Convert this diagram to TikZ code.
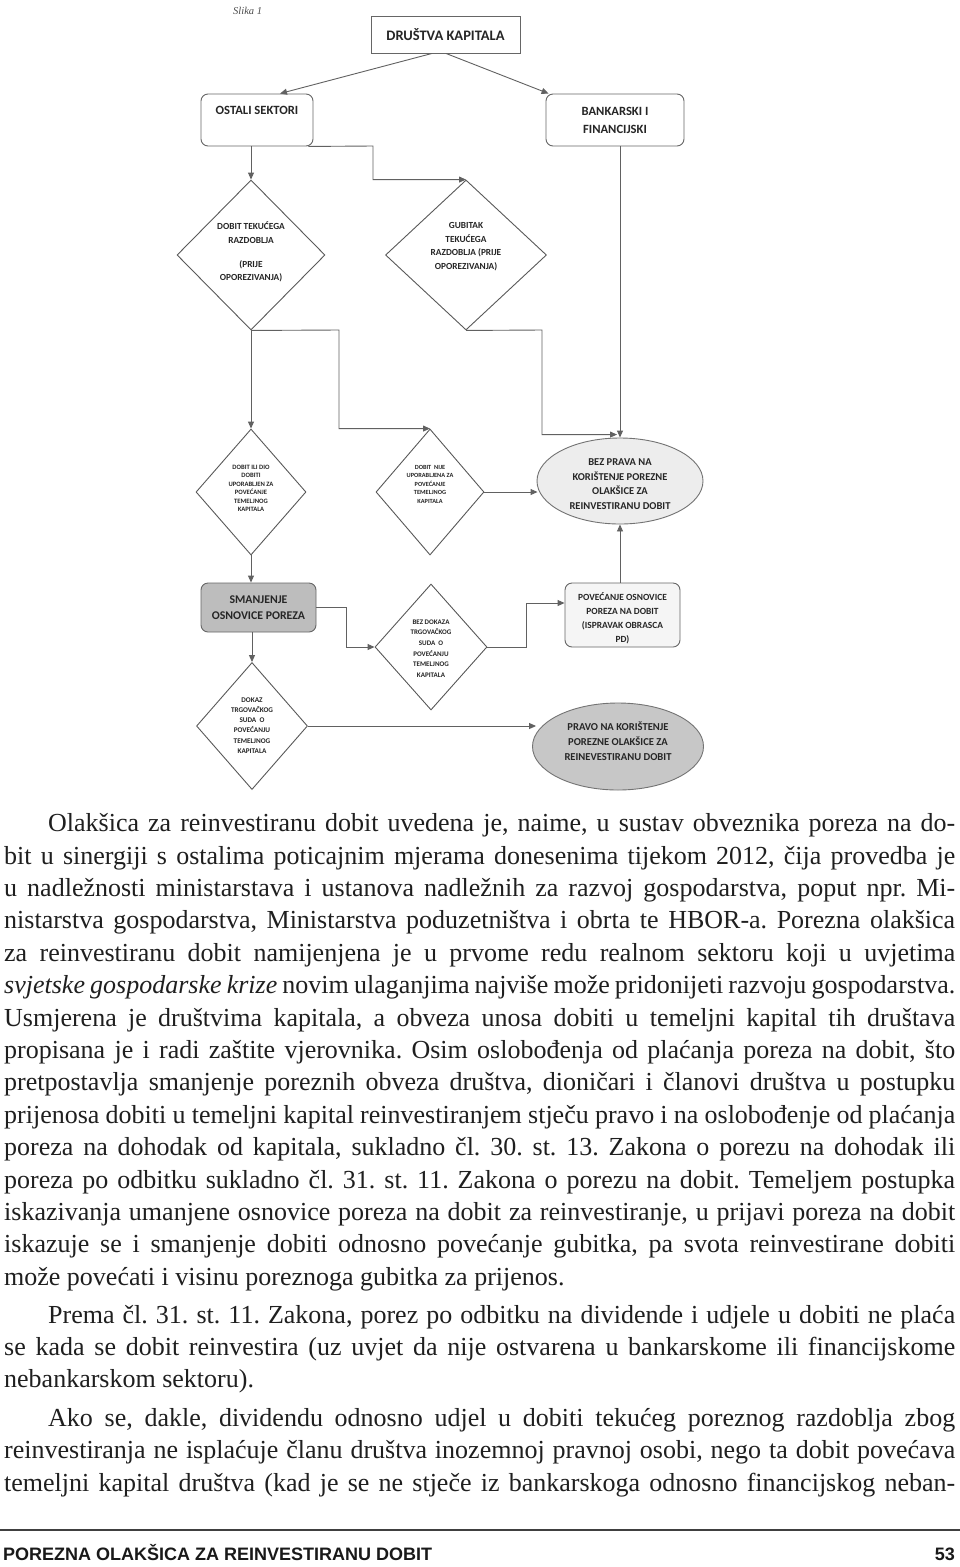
\documentclass[tikz,border=0pt]{standalone}
\usepackage{fontspec}
\setmainfont{Liberation Serif}
\newfontfamily\flowfont{Carlito}
\newfontfamily\footfont{Liberation Sans}
\usetikzlibrary{shapes.geometric,arrows.meta,calc}
\frenchspacing
\newcommand\jline[1]{{\spaceskip=0pt\xspaceskip=0pt\makebox[951pt][s]{#1}}}
\newcommand\iline[1]{{\spaceskip=0pt\xspaceskip=0pt\hspace*{44pt}\makebox[907pt][s]{#1}}}
\newcommand\lline[1]{{\spaceskip=0pt\xspaceskip=0pt #1}}
\begin{document}
\begin{tikzpicture}[x=1pt,y=-1pt,
  conn/.style={draw=black!62, line width=0.9pt},
  arr/.style={conn, -{Triangle[length=7pt,width=6pt]}},
  boxst/.style={draw=black!60, line width=0.9pt, rounded corners=7pt, inner sep=0pt, fill=white},
  dia/.style={diamond, draw=black!65, line width=0.9pt, inner sep=0pt, fill=white},
  ell/.style={ellipse, draw=black!55, line width=0.9pt, inner sep=0pt},
  ftxt/.style 2 args={font=\flowfont\bfseries\fontsize{#1}{#2}\selectfont, align=center, text=black!85, inner sep=0pt},
  body/.style={font=\fontsize{26}{32.4}\selectfont\frenchspacing, text=black!88, text width=951pt, align=left, inner sep=0pt, anchor=base west},
]
\fill[white] (0,0) rectangle (960,1567);
\useasboundingbox (0,0) rectangle (960,1567);

\node[font=\itshape\fontsize{10.5}{12}\selectfont, text=black!70, anchor=base west, inner sep=0pt] (slika) at (233,14) {Slika 1};

% boxes
\node[draw=black!60, line width=0.9pt, minimum width=149pt, minimum height=37pt, ftxt={14.5}{17}] (dru) at (445.5,34.5) {DRUŠTVA KAPITALA};
\node[boxst, minimum width=112pt, minimum height=52pt] (ost) at (257,120) {};
\node[ftxt={12.6}{18}] (ostt) at (257,110) {OSTALI SEKTORI};
\node[boxst, minimum width=138pt, minimum height=52pt, ftxt={12.6}{18}] (bank) at (615,120) {BANKARSKI I\\FINANCIJSKI};

% diamonds
\node[dia, minimum width=148pt, minimum height=150pt] (d1) at (251,255) {};
\node[ftxt={9.3}{13.5}] (d1t) at (251,252) {DOBIT TEKUĆEGA\\RAZDOBLJA\\[10.5pt](PRIJE\\OPOREZIVANJA)};
\node[dia, minimum width=161pt, minimum height=150pt] (d2) at (466,255) {};
\node[ftxt={9.3}{13.7}] (d2t) at (466,246.5) {GUBITAK\\TEKUĆEGA\\RAZDOBLJA (PRIJE\\OPOREZIVANJA)};
\node[dia, minimum width=110pt, minimum height=126pt] (d3) at (251,492) {};
\node[ftxt={6.6}{8.5}] (d3t) at (251,488.5) {DOBIT ILI DIO\\DOBITI\\UPORABLJEN ZA\\POVEĆANJE\\TEMELJNOG\\KAPITALA};
\node[dia, minimum width=108pt, minimum height=126pt] (d4) at (430,492) {};
\node[ftxt={6.3}{8.5}] (d4t) at (430,484) {DOBIT~~NIJE\\UPORABLJENA ZA\\POVEĆANJE\\TEMELJNOG\\KAPITALA};
\node[dia, minimum width=112pt, minimum height=126pt] (d5) at (431,647) {};
\node[ftxt={7}{10.6}] (d5t) at (431,648.5) {BEZ DOKAZA\\TRGOVAČKOG\\SUDA~~O\\POVEĆANJU\\TEMELJNOG\\KAPITALA};
\node[dia, minimum width=111pt, minimum height=127pt] (d6) at (252,726) {};
\node[ftxt={7.2}{10.2}] (d6t) at (252,725.5) {DOKAZ\\TRGOVAČKOG\\SUDA~~O\\POVEĆANJU\\TEMELJNOG\\KAPITALA};

% results
\node[ell, fill=black!7, minimum width=166pt, minimum height=86pt] (e1) at (620,481) {};
\node[ftxt={10.5}{14.7}] (e1t) at (620,484) {BEZ PRAVA NA\\KORIŠTENJE POREZNE\\OLAKŠICE ZA\\REINVESTIRANU DOBIT};
\node[boxst, fill=black!26, minimum width=115pt, minimum height=49pt, ftxt={11.8}{16}] (sm) at (258.5,607.5) {SMANJENJE\\OSNOVICE POREZA};
\node[boxst, fill=black!4, minimum width=115pt, minimum height=64pt] (pv) at (622.5,615) {};
\node[ftxt={9.4}{14}] (pvt) at (622.5,618) {POVEĆANJE OSNOVICE\\POREZA NA DOBIT\\(ISPRAVAK OBRASCA\\PD)};
\node[ell, fill=black!22, minimum width=171pt, minimum height=87pt] (e2) at (618,746.5) {};
\node[ftxt={10.6}{15}] (e2t) at (618,741) {PRAVO NA KORIŠTENJE\\POREZNE OLAKŠICE ZA\\REINEVESTIRANU DOBIT};

% helper corners
\coordinate (k1) at (373,146);
\coordinate (k2) at (339,330);
\coordinate (k3) at (542,330);
\coordinate (k4) at (346,607.5);
\coordinate (k5) at (526,647);

% connectors
\draw[arr] ([xshift=-13.5pt]dru.south) -- ([xshift=23pt]ost.north);
\draw[arr] ([xshift=0.5pt]dru.south) -- ([xshift=3pt]bank.north west);
\draw[arr] (ost.south -| d1.north) -- (d1.north);
\draw[arr] ([xshift=-5pt]ost.south east) -- (k1) |- (d2.north);
\draw[arr] (bank.south -| e1.north) -- (e1.north);
\draw[arr] (d1.south) -- (d3.north);
\draw[arr] (d1.south) -- (k2) |- (d4.north);
\draw[arr] (d2.south) -- (k3) |- ([xshift=-3pt,yshift=3pt]e1.north);
\draw[arr] (d4.east) -- ([xshift=1pt]e1.west |- d4.east);
\draw[arr] (d3.south) -- (d3.south |- sm.north);
\draw[arr] (sm.east) -- (k4) |- (d5.west);
\draw[arr] (d5.east) -- (k5) |- ([yshift=12pt]pv.west);
\draw[arr] (pv.north -| e1.south) -- (e1.south);
\draw[arr] (sm.south -| d6.north) -- (d6.north);
\draw[arr] (d6.east) -- ([xshift=4pt]e2.west |- d6.east);

% body text
\node[body] (p1) at (4,831.7) {%
\iline{Olakšica za reinvestiranu dobit uvedena je, naime, u sustav obveznika poreza na do-}\\
\jline{bit u sinergiji s ostalima poticajnim mjerama donesenima tijekom 2012, čija provedba je}\\
\jline{u nadležnosti ministarstava i ustanova nadležnih za razvoj gospodarstva, poput npr. Mi-}\\
\jline{nistarstva gospodarstva, Ministarstva poduzetništva i obrta te HBOR-a. Porezna olakšica}\\
\jline{za reinvestiranu dobit namijenjena je u prvome redu realnom sektoru koji u uvjetima}\\
\jline{\textit{svjetske gospodarske krize} novim ulaganjima najviše može pridonijeti razvoju gospodarstva.}\\
\jline{Usmjerena je društvima kapitala, a obveza unosa dobiti u temeljni kapital tih društava}\\
\jline{propisana je i radi zaštite vjerovnika. Osim oslobođenja od plaćanja poreza na dobit, što}\\
\jline{pretpostavlja smanjenje poreznih obveza društva, dioničari i članovi društva u postupku}\\
\jline{prijenosa dobiti u temeljni kapital reinvestiranjem stječu pravo i na oslobođenje od plaćanja}\\
\jline{poreza na dohodak od kapitala, sukladno čl. 30. st. 13. Zakona o porezu na dohodak ili}\\
\jline{poreza po odbitku sukladno čl. 31. st. 11. Zakona o porezu na dobit. Temeljem postupka}\\
\jline{iskazivanja umanjene osnovice poreza na dobit za reinvestiranje, u prijavi poreza na dobit}\\
\jline{iskazuje se i smanjenje dobiti odnosno povećanje gubitka, pa svota reinvestirane dobiti}\\
\lline{može povećati i visinu poreznoga gubitka za prijenos.}};
\node[body] (p2) at (4,1323) {%
\iline{Prema čl. 31. st. 11. Zakona, porez po odbitku na dividende i udjele u dobiti ne plaća}\\
\jline{se kada se dobit reinvestira (uz uvjet da nije ostvarena u bankarskome ili financijskome}\\
\lline{nebankarskom sektoru).}};
\node[body] (p3) at (4,1426.5) {%
\iline{Ako se, dakle, dividendu odnosno udjel u dobiti tekućeg poreznog razdoblja zbog}\\
\jline{reinvestiranja ne isplaćuje članu društva inozemnoj pravnoj osobi, nego ta dobit povećava}\\
\jline{temeljni kapital društva (kad je se ne stječe iz bankarskoga odnosno financijskog neban-}};

% footer
\draw[line width=1.3pt, black!75] (0,1530) -- (960,1530);
\node[font=\footfont\bfseries\fontsize{18}{20}\selectfont, text=black!90, anchor=base west, inner sep=0pt] (foot) at (3,1560) {POREZNA OLAKŠICA ZA REINVESTIRANU DOBIT};
\node[font=\footfont\bfseries\fontsize{18}{20}\selectfont, text=black!90, anchor=base east, inner sep=0pt] (pg) at (955,1560) {53};
\end{tikzpicture}
\end{document}
